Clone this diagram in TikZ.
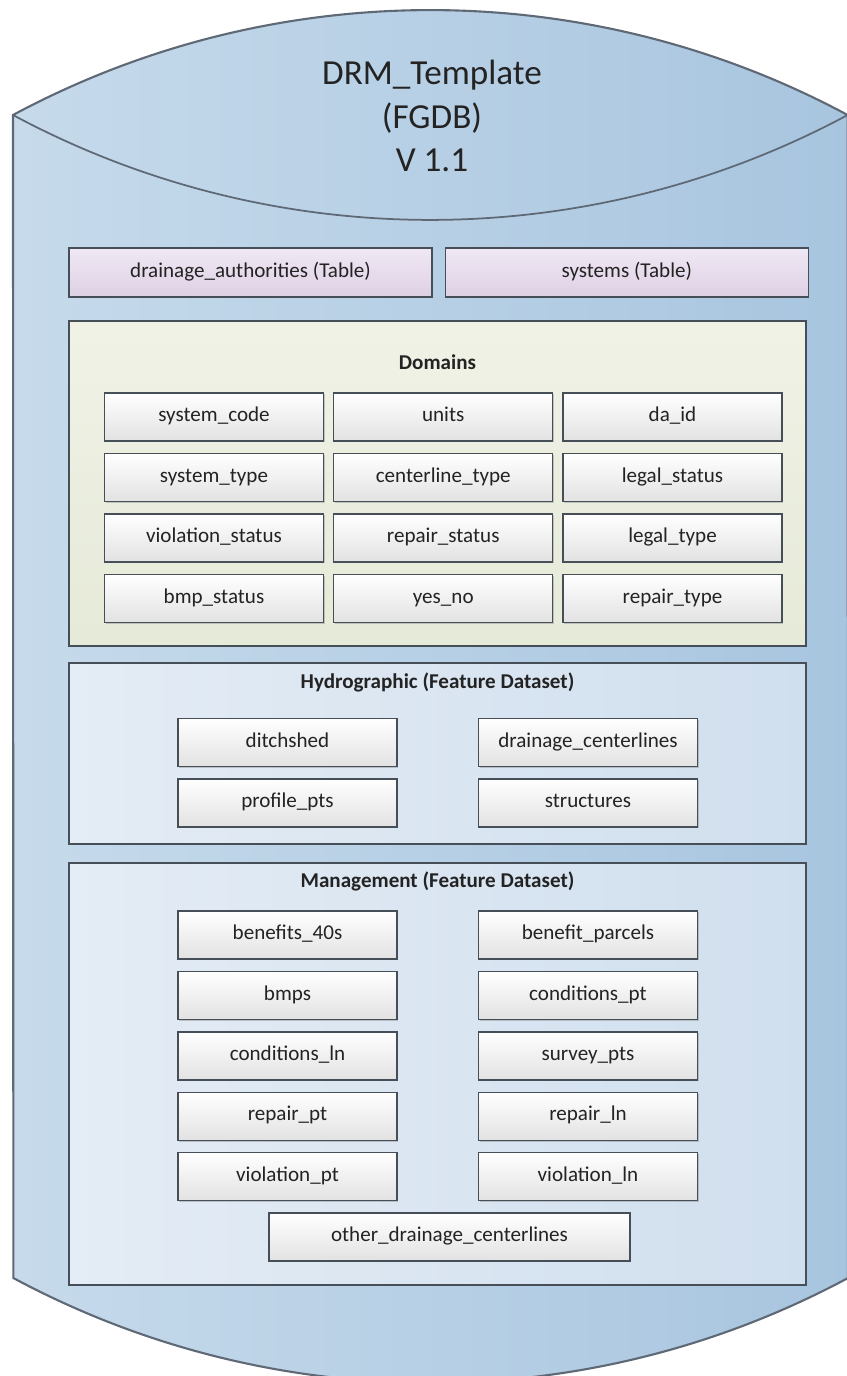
\documentclass[tikz,border=0pt]{standalone}
\usepackage{fontspec}
\setmainfont{Carlito}
\usepackage{tikz}
\usetikzlibrary{positioning,shadows,backgrounds}
\definecolor{CylLight}{RGB}{198,218,235}
\definecolor{CylDark}{RGB}{168,197,223}
\definecolor{CylEdge}{RGB}{95,105,118}
\definecolor{BoxEdge}{RGB}{70,78,88}
\definecolor{TabTop}{RGB}{240,232,244}
\definecolor{TabBot}{RGB}{222,208,228}
\definecolor{DomFill}{RGB}{240,242,230}
\definecolor{DomDark}{RGB}{230,234,216}
\definecolor{SetLight}{RGB}{228,236,245}
\definecolor{SetDark}{RGB}{208,223,238}
\definecolor{ItemGray}{RGB}{226,226,226}
\definecolor{TextGray}{RGB}{35,35,35}

\begin{document}
\begin{tikzpicture}[
        x=0.02cm, y=-0.02cm,
        % --- STYLE CHUNG ---
        cylbody/.style={
            draw=CylEdge,
            line width=1.2pt,
            left color=CylLight,
            right color=CylDark
        },
        % Bang (Table)
        tabbox/.style={
            draw=BoxEdge, line width=0.8pt,
            top color=TabTop, bottom color=TabBot,
            minimum width=7.26cm, minimum height=0.98cm,
            inner sep=0pt, text=TextGray,
            text height=1.6ex, text depth=0.5ex,
            font=\fontsize{12}{14}\selectfont
        },
        % Khung nhom
        grpbox/.style={
            draw=BoxEdge, line width=0.9pt,
            minimum width=14.74cm, inner sep=0pt,
            drop shadow={shadow xshift=0.6pt, shadow yshift=-0.6pt, opacity=0.35}
        },
        grptitle/.style={
            font=\bfseries\fontsize{12}{14}\selectfont, text=TextGray
        },
        % O thuong (trang)
        itembox/.style={
            draw=BoxEdge, line width=0.8pt,
            top color=white, bottom color=ItemGray,
            minimum width=4.38cm, minimum height=0.96cm,
            inner sep=0pt, text=TextGray,
            text height=1.6ex, text depth=0.5ex,
            font=\fontsize{12}{14}\selectfont,
            drop shadow={shadow xshift=0.8pt, shadow yshift=-0.8pt, opacity=0.4}
        }
    ]

        \useasboundingbox (0,0) rectangle (846,1376);

        % --- HINH TRU ---
        \path[cylbody] (13,115)
            arc[start angle=118.23, end angle=61.77, radius=17.65cm]
            -- (848,1278)
            arc[start angle=-61.77, end angle=-118.23, radius=17.65cm]
            -- cycle;
        \draw[CylEdge, line width=1pt] (13,115)
            arc[start angle=241.77, end angle=298.23, radius=17.65cm];

        \node[align=center, text=TextGray, font=\fontsize{20}{25}\selectfont]
            (title) at (432,116) {DRM\_Template\\(FGDB)\\V 1.1};

        % --- BANG ---
        \node[tabbox] (tabDA) at (250.5,272.5) {drainage\_authorities (Table)};
        \node[tabbox, right=0.24cm of tabDA] (tabSys) {systems (Table)};

        % --- DOMAINS ---
        \node[grpbox, minimum height=6.5cm, top color=DomFill, bottom color=DomDark]
            (domains) at (437.5,483.5) {};
        \node[grptitle] (domTitle) at (437.5,362) {Domains};
        \foreach \name [count=\i from 0] in {system\_code, units, da\_id,
                system\_type, centerline\_type, legal\_status,
                violation\_status, repair\_status, legal\_type,
                bmp\_status, yes\_no, repair\_type} {
            \pgfmathtruncatemacro{\col}{mod(\i,3)}
            \pgfmathtruncatemacro{\row}{int(\i/3)}
            \node[itembox] (D\i) at ({214+\col*229.25},{417+\row*60.5}) {\name};
        }

        % --- HYDROGRAPHIC ---
        \node[grpbox, minimum height=3.62cm, left color=SetLight, right color=SetDark]
            (hydro) at (437.5,753.5) {};
        \node[grptitle] (hydTitle) at (437.5,682) {Hydrographic (Feature Dataset)};
        \node[itembox] (H1) at (287.5,742.5) {ditchshed};
        \node[itembox] (H2) at (588,742.5) {drainage\_centerlines};
        \node[itembox] (H3) at (287.5,803) {profile\_pts};
        \node[itembox] (H4) at (588,803) {structures};

        % --- MANAGEMENT ---
        \node[grpbox, minimum height=8.44cm, left color=SetLight, right color=SetDark]
            (mgmt) at (437.5,1074) {};
        \node[grptitle] (mgmTitle) at (437.5,881) {Management (Feature Dataset)};
        \foreach \lname/\rname [count=\r from 0] in {benefits\_40s/benefit\_parcels,
                bmps/conditions\_pt, conditions\_ln/survey\_pts,
                repair\_pt/repair\_ln, violation\_pt/violation\_ln} {
            \node[itembox] (ML\r) at (287.5,{935+\r*60.4}) {\lname};
            \node[itembox] (MR\r) at (588,{935+\r*60.4}) {\rname};
        }
        \node[itembox, minimum width=7.22cm] (other) at (449.5,1237) {other\_drainage\_centerlines};

    \end{tikzpicture}
\end{document}
